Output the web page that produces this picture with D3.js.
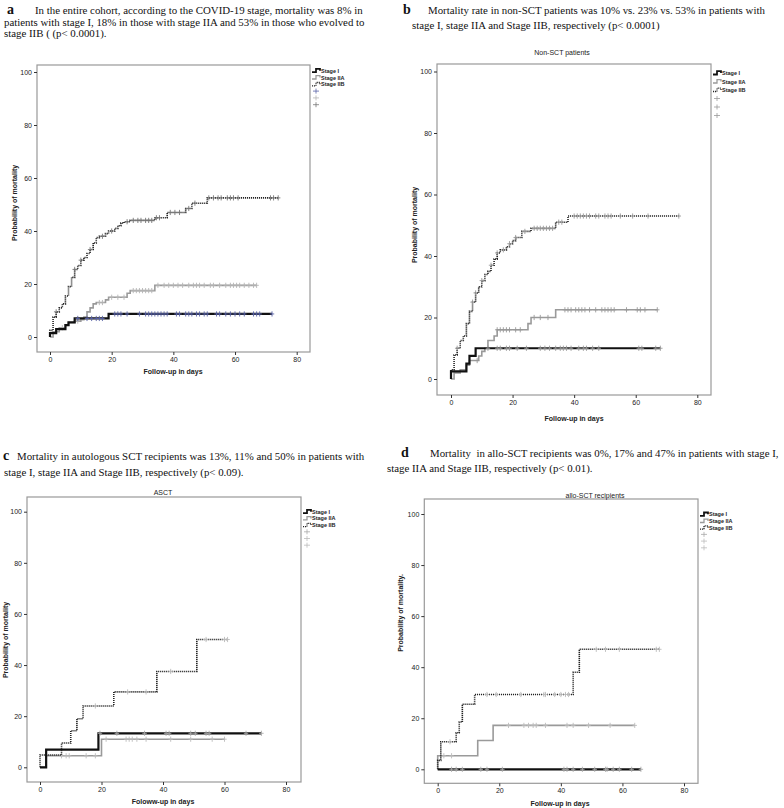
<!DOCTYPE html>
<html>
<head>
<meta charset="utf-8">
<script src="https://cdn.jsdelivr.net/npm/d3@7"></script>
<style>
  body { margin: 0; background: #fff; }
  svg { display: block; }
  .cap { font-family: 'Liberation Serif', 'Times New Roman', serif; font-size: 10.85px; fill: #111; }
  .letter { font-family: 'Liberation Serif', serif; font-size: 14px; font-weight: bold; fill: #111; }
  .tick text { font-family: 'Liberation Sans', Arial, sans-serif; font-size: 7px; fill: #222; }
  .axis-title { font-family: 'Liberation Sans', Arial, sans-serif; font-size: 7px; font-weight: bold; fill: #222; }
  .plot-title { font-family: 'Liberation Sans', Arial, sans-serif; font-size: 7px; fill: #222; }
  .leg { font-family: 'Liberation Sans', Arial, sans-serif; font-size: 5.5px; font-weight: bold; fill: #222; }
</style>
</head>
<body>
<svg id="chart" width="784" height="808"></svg>
<script>
// ---- data (days, % mortality) ----
const xTicks = [0, 20, 40, 60, 80];
const yTicks = [0, 20, 40, 60, 80, 100];
const stages = ['Stage I', 'Stage IIA', 'Stage IIB'];

// a: entire cohort
const aStageITimes = [0, 0, 2, 5, 6, 8, 19, 72];
const aStageIValues = [0, 1.5, 3, 4.5, 5.5, 7, 8.7, 8.7];
const aStageICensor = [9, 12, 13.5, 15, 16, 17, 21, 22, 23, 25, 29, 31, 32, 33, 34, 35, 36, 37, 38, 41, 42, 44, 45, 46, 47.5, 48.5, 50, 51, 54, 55, 57, 58.5, 60, 61.5, 63, 66, 67, 68, 72];
const aStageIIATimes = [0, 1, 3, 5, 6, 8, 10, 11, 12, 13, 14, 15, 18, 19, 25, 26, 34, 67];
const aStageIIAValues = [0, 2, 3.5, 4.5, 5.5, 6, 6.5, 7.5, 9.5, 11, 12.5, 13, 14, 15, 16.5, 17.5, 19.5, 19.5];
const aStageIIACensor = [4, 9, 16, 17, 20, 22, 24, 27, 28, 29, 30, 31, 32, 33, 35, 37, 38.5, 40, 41.5, 43, 45, 46.5, 47.5, 48.5, 50, 52, 53, 55, 57, 58.5, 59.5, 60.5, 61.5, 63, 64.5, 66, 67];
const aStageIIBTimes = [0, 0, 1, 2, 3, 4, 5, 6, 7, 8, 9, 10, 11, 12, 13, 14, 15, 16, 18, 19, 21, 22, 23, 24, 26, 34, 38, 44, 46, 51, 74];
const aStageIIBValues = [0, 2.5, 7.5, 9.5, 11, 12.5, 15.5, 19, 22.5, 25.5, 27, 29, 30, 31.5, 33, 35.5, 37.5, 38, 39, 40, 41, 42, 43, 43.5, 44, 45, 47, 48.5, 50.5, 52.5, 52.5];
const aStageIIBCensor = [2, 8, 10, 13, 17, 20, 25, 27, 28.5, 29.5, 31, 32, 33, 34.5, 35.5, 39, 40.5, 42, 45, 47, 51.5, 53, 54.5, 55.5, 57.5, 58.5, 59.5, 61, 71.5, 72.5, 74];

// b: non-SCT patients
const bStageITimes = [0, 0, 5, 6, 8, 68];
const bStageIValues = [0, 2.5, 5, 7.5, 10, 10];
const bStageICensor = [12, 15, 16, 18, 19, 21.5, 24.5, 29, 30.5, 32, 34, 35.5, 36.5, 37.5, 39, 41.5, 43, 44, 46, 48, 61, 62, 66.5, 68];
const bStageIIATimes = [0, 1, 3, 5, 6, 9, 10, 11, 12, 14, 15, 25, 26, 34, 67];
const bStageIIAValues = [0, 2, 3, 4.5, 6, 7.5, 9, 10, 12.5, 14, 16, 18, 20, 22.5, 22.5];
const bStageIIACensor = [8.5, 15, 16, 17, 18, 19, 21, 22.5, 27, 29, 31.5, 37, 38, 39, 40.5, 41.5, 42.5, 43.5, 45, 47, 49, 50, 51, 52, 53, 57, 60.5, 61.5, 63, 67];
const bStageIIBTimes = [0, 0, 1, 2, 3, 4, 5, 6, 7, 8, 9, 10, 11, 12, 13, 14, 15, 16, 18, 19, 20, 21, 23, 26, 34, 38, 74];
const bStageIIBValues = [0, 3, 7.8, 10, 12.5, 14, 18, 22, 25, 28, 30, 32, 34, 35, 37, 39, 41, 42, 43, 44, 45, 46, 48, 49, 51, 53, 53];
const bStageIIBCensor = [2, 7, 8, 10, 13, 15, 17, 19, 21, 24, 27, 28, 29, 30, 31, 32, 33, 35, 36, 40, 41, 42, 43, 44, 45, 47, 48, 50, 51, 52, 55, 59, 64, 74];

// c: ASCT
const cStageITimes = [0, 2, 19, 72];
const cStageIValues = [0, 6.9, 13.3, 13.3];
const cStageICensor = [19.5, 25, 34, 41, 42, 49, 50.5, 54, 55, 67, 72];
const cStageIIATimes = [0, 2, 20, 60];
const cStageIIAValues = [0, 4.5, 11, 11];
const cStageIIACensor = [7, 8.5, 9.5, 15, 18, 21.5, 28, 29, 30, 31.5, 34.5, 42.5, 49, 56, 60];
const cStageIIBTimes = [0, 0, 7, 10, 12, 14, 24, 38, 51, 61];
const cStageIIBValues = [0, 4.8, 9.5, 14.3, 19, 24, 29.5, 37.5, 50, 50];
const cStageIIBCensor = [18, 28.5, 34.5, 42.5, 54, 60, 61];

// d: allo-SCT recipients
const dStageITimes = [0, 66];
const dStageIValues = [0, 0];
const dStageICensor = [4.5, 6, 8, 14, 16, 21, 41, 42, 44, 47, 51, 54.5, 55, 57, 59, 63, 66];
const dStageIIATimes = [0, 0, 13, 18, 64];
const dStageIIAValues = [0, 5.3, 11.3, 17.2, 17.2];
const dStageIIACensor = [2, 4.5, 23, 28, 29.5, 31, 32, 35, 42, 44, 49, 56, 64];
const dStageIIBTimes = [0, 0, 1, 6, 7, 8, 12, 44, 46, 72];
const dStageIIBValues = [0, 3.5, 10.8, 14.3, 18.5, 25.5, 29.3, 38, 47, 47];
const dStageIIBCensor = [4, 16, 19, 27, 34.5, 35, 38, 40, 41.5, 42.5, 51.5, 54.5, 59, 71, 72];

// ---- captions ----
const captions = [
  { letter: 'a', lx: 7, x0: 35, y: 14, lines: [
    'In the entire cohort, according to the COVID-19 stage, mortality was 8% in',
    'patients with stage I, 18% in those with stage IIA and 53% in those who evolved to',
    'stage IIB ( (p< 0.0001).'], x: 4, dy: 11.7 },
  { letter: 'b', lx: 403, x0: 428, y: 14, lines: [
    'Mortality rate in non-SCT patients was 10% vs. 23% vs. 53% in patients with',
    'stage I, stage IIA and Stage IIB, respectively (p< 0.0001)'], x: 412, dy: 14.5 },
  { letter: 'c', lx: 3, x0: 17, y: 460, lines: [
    'Mortality in autologous SCT recipients was 13%, 11% and 50% in patients with',
    'stage I, stage IIA and Stage IIB, respectively (p< 0.09).'], x: 4, dy: 16 },
  { letter: 'd', lx: 401, x0: 430, y: 457, lines: [
    'Mortality  in allo-SCT recipients was 0%, 17% and 47% in patients with stage I,',
    'stage IIA and Stage IIB, respectively (p< 0.01).'], x: 387, dy: 15 }
];

const svg = d3.select('#chart');
svg.append('rect').attr('width', 784).attr('height', 808).attr('fill', '#fff');

captions.forEach(c => {
  svg.append('text').attr('class', 'letter').attr('x', c.lx).attr('y', c.y - 0.5).text(c.letter);
  c.lines.forEach((l, i) => {
    svg.append('text').attr('class', 'cap')
      .attr('x', i === 0 ? c.x0 : c.x)
      .attr('y', c.y + i * c.dy)
      .style('white-space', 'pre')
      .text(l);
  });
});

const panels = [
  {
    frame: [37, 65, 310, 352], x0: 50, x80: 296.7, y0: 337, y100: 72,
    title: null, ylab: 'Probability of mortality', ylabX: 15, ylabY: 203,
    xlab: 'Follow-up in days', xlabX: 173, xlabY: 374, legY: 70.7, legStep: 6.8,
    censorColors: ['#5a64a8', '#b4b4b4', '#777'],
    series: [
      [aStageITimes, aStageIValues, aStageICensor],
      [aStageIIATimes, aStageIIAValues, aStageIIACensor],
      [aStageIIBTimes, aStageIIBValues, aStageIIBCensor]
    ]
  },
  {
    frame: [437, 64, 711, 395], x0: 451, x80: 697.3, y0: 379, y100: 71.5,
    title: 'Non-SCT patients', titleX: 562, titleY: 55,
    ylab: 'Probability of mortality', ylabX: 415, ylabY: 225,
    xlab: 'Follow-up in days', xlabX: 574, xlabY: 421, legY: 73, legStep: 8.5,
    censorColors: ['#999', '#999', '#999'],
    series: [
      [bStageITimes, bStageIValues, bStageICensor],
      [bStageIIATimes, bStageIIAValues, bStageIIACensor],
      [bStageIIBTimes, bStageIIBValues, bStageIIBCensor]
    ]
  },
  {
    frame: [27, 497, 301, 782], x0: 40, x80: 286, y0: 767.3, y100: 511.7,
    title: 'ASCT', titleX: 163, titleY: 495,
    ylab: 'Probability of mortality', ylabX: 6, ylabY: 640,
    xlab: 'Foloww-up in days', xlabX: 163, xlabY: 804, legY: 511.7, legStep: 6.7,
    censorColors: ['#aaa', '#bbb', '#bbb'],
    series: [
      [cStageITimes, cStageIValues, cStageICensor],
      [cStageIIATimes, cStageIIAValues, cStageIIACensor],
      [cStageIIBTimes, cStageIIBValues, cStageIIBCensor]
    ]
  },
  {
    frame: [424.3, 499, 698, 783.3], x0: 437.7, x80: 684, y0: 769.3, y100: 514,
    title: 'allo-SCT recipients', titleX: 595, titleY: 498,
    ylab: 'Probability of mortality.', ylabX: 401, ylabY: 613,
    xlab: 'Follow-up in days', xlabX: 560, xlabY: 806, legY: 514.3, legStep: 6.7,
    censorColors: ['#aaa', '#bbb', '#bbb'],
    series: [
      [dStageITimes, dStageIValues, dStageICensor],
      [dStageIIATimes, dStageIIAValues, dStageIIACensor],
      [dStageIIBTimes, dStageIIBValues, dStageIIBCensor]
    ]
  }
];

const lineStyles = [
  { stroke: '#111', width: 2.2, dash: null },
  { stroke: '#9a9a9a', width: 1.6, dash: null },
  { stroke: '#222', width: 1.6, dash: '1.1,0.9' }
];

const drawPanel = (p) => {
  const [fx0, fy0, fx1, fy1] = p.frame;
  const x = d3.scaleLinear().domain([0, 80]).range([p.x0, p.x80]);
  const y = d3.scaleLinear().domain([0, 100]).range([p.y0, p.y100]);
  const g = svg.append('g');

  // frame
  g.append('rect')
    .attr('x', fx0).attr('y', fy0)
    .attr('width', fx1 - fx0).attr('height', fy1 - fy0)
    .attr('fill', 'none').attr('stroke', '#999').attr('stroke-width', 1.2);

  const xAxis = g.append('g')
    .attr('transform', `translate(0,${fy1})`)
    .call(d3.axisBottom(x).tickValues(xTicks).tickSize(3).tickPadding(2).tickFormat(d3.format('d')));
  const yAxis = g.append('g')
    .attr('transform', `translate(${fx0},0)`)
    .call(d3.axisLeft(y).tickValues(yTicks).tickSize(3).tickPadding(2).tickFormat(d3.format('d')));
  [xAxis, yAxis].forEach(a => {
    a.select('.domain').remove();
    a.selectAll('.tick line').attr('stroke', '#333');
  });

  if (p.title) {
    g.append('text').attr('class', 'plot-title')
      .attr('x', p.titleX).attr('y', p.titleY)
      .attr('text-anchor', 'middle').text(p.title);
  }
  g.append('text').attr('class', 'axis-title')
    .attr('x', p.xlabX).attr('y', p.xlabY)
    .attr('text-anchor', 'middle').text(p.xlab);
  g.append('text').attr('class', 'axis-title')
    .attr('transform', `translate(${p.ylabX + 2},${p.ylabY}) rotate(-90)`)
    .attr('text-anchor', 'middle').text(p.ylab);

  const line = d3.line()
    .x(d => x(d[0])).y(d => y(d[1]))
    .curve(d3.curveStepAfter);

  // draw IIA first, then IIB, then Stage I on top
  [1, 2, 0].forEach(i => {
    const [times, values, censor] = p.series[i];
    const st = lineStyles[i];
    const pts = times.map((t, k) => [t, values[k]]);
    g.append('path')
      .datum(pts)
      .attr('d', line)
      .attr('fill', 'none')
      .attr('stroke', st.stroke)
      .attr('stroke-width', st.width)
      .attr('stroke-dasharray', st.dash);

    const valueAt = (t) => values[Math.max(0, d3.bisectRight(times, t) - 1)];
    const marks = g.append('g').selectAll('g')
      .data(censor)
      .enter()
      .append('g')
      .attr('transform', d => `translate(${x(d)},${y(valueAt(d))})`);
    marks.append('line')
      .attr('y1', -2.6).attr('y2', 2.6)
      .attr('stroke', p.censorColors[i]).attr('stroke-width', 0.9);
    marks.append('line')
      .attr('x1', -2.2).attr('x2', 2.2)
      .attr('stroke', p.censorColors[i]).attr('stroke-width', 0.9);
  });

  // legend
  const lx = fx1 + 2;
  stages.forEach((s, i) => {
    const st = lineStyles[i];
    const ly = p.legY + i * p.legStep;
    g.append('path')
      .attr('d', `M${lx},${ly + 1.5}H${lx + 4}V${ly - 1.8}H${lx + 8}V${ly}`)
      .attr('fill', 'none')
      .attr('stroke', st.stroke)
      .attr('stroke-width', st.width * 0.8)
      .attr('stroke-dasharray', st.dash);
    g.append('text').attr('class', 'leg')
      .attr('x', lx + 9).attr('y', ly + 2).text(s);
  });
  stages.forEach((s, i) => {
    const ly = p.legY + (i + 3) * p.legStep;
    const cx = lx + 4;
    g.append('line').attr('x1', cx - 3).attr('x2', cx + 3).attr('y1', ly).attr('y2', ly)
      .attr('stroke', p.censorColors[i]).attr('stroke-width', 0.8);
    g.append('line').attr('x1', cx).attr('x2', cx).attr('y1', ly - 2.5).attr('y2', ly + 2.5)
      .attr('stroke', p.censorColors[i]).attr('stroke-width', 0.8);
  });
};

panels.forEach(drawPanel);
</script>
</body>
</html>
